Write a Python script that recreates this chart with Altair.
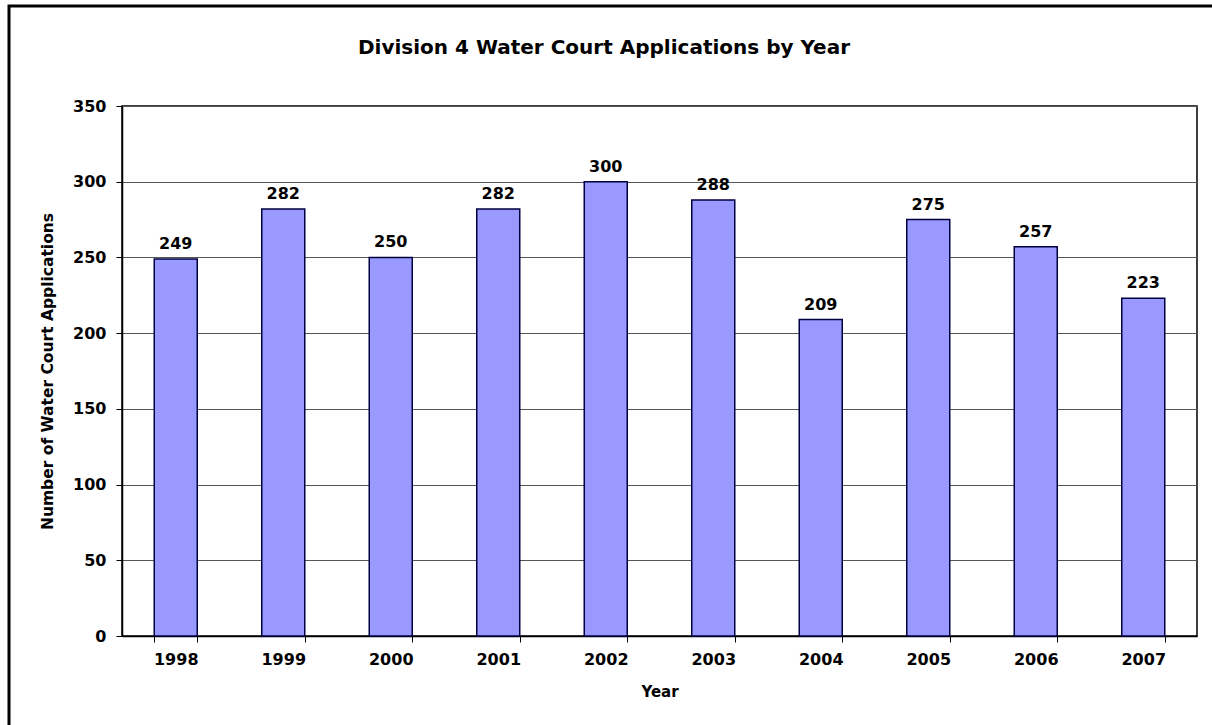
import altair as alt
import pandas as pd

# Division 4 water court applications, per year
years = ["1998", "1999", "2000", "2001", "2002", "2003", "2004", "2005", "2006", "2007"]
applications = [249, 282, 250, 282, 300, 288, 209, 275, 257, 223]
chart_title = "Division 4 Water Court Applications by Year"

df = pd.DataFrame({"Year": years, "Applications": applications})

FONT = "DejaVu Sans"

x_enc = alt.X(
    "Year:N",
    sort=years,
    scale=alt.Scale(paddingInner=0.6, paddingOuter=0.3),
    axis=alt.Axis(
        title="Year",
        labelAngle=0,
        labelFont=FONT,
        labelFontSize=16,
        labelFontWeight="bold",
        labelColor="black",
        labelPadding=9,
        titleFont=FONT,
        titleFontSize=15,
        titleFontWeight="bold",
        titleColor="black",
        titlePadding=17,
        domainColor="black",
        domainWidth=1.5,
        tickColor="black",
        tickSize=6,
        tickBand="extent",
        tickExtra=True,
        grid=False,
    ),
)

y_enc = alt.Y(
    "Applications:Q",
    scale=alt.Scale(domain=[0, 350]),
    axis=alt.Axis(
        title="Number of Water Court Applications",
        values=[0, 50, 100, 150, 200, 250, 300, 350],
        labelFont=FONT,
        labelFontSize=16,
        labelFontWeight="bold",
        labelColor="black",
        labelPadding=10,
        titleFont=FONT,
        titleFontSize=15.5,
        titleFontWeight="bold",
        titleColor="black",
        titlePadding=17,
        domainColor="black",
        domainWidth=1.5,
        tickColor="black",
        tickSize=6,
        grid=True,
        gridColor="#555555",
        gridWidth=1,
    ),
)

base = alt.Chart(df)

bars = base.mark_bar(
    color="#9999FF", stroke="#000040", strokeWidth=1.5
).encode(x=x_enc, y=y_enc)

labels = base.mark_text(
    baseline="bottom", dy=-7, font=FONT, fontSize=16, fontWeight="bold", color="black"
).encode(x=alt.X("Year:N", sort=years), y="Applications:Q", text="Applications:Q")

# chart heading, centred over the whole figure
heading = alt.Chart(pd.DataFrame({"t": [chart_title]})).mark_text(
    font=FONT, fontSize=20, fontWeight="bold", color="black",
    align="center", baseline="middle", clip=False,
).encode(text="t:N", x=alt.value(482), y=alt.value(-58))

# outer border around the whole figure
frame = alt.Chart(pd.DataFrame({"k": [0]})).mark_rect(
    fill=None, stroke="black", strokeWidth=3, clip=False
).encode(
    x=alt.value(-113), x2=alt.value(1200), y=alt.value(-100), y2=alt.value(700)
)

chart = (
    alt.layer(bars, labels, heading, frame)
    .properties(
        width=1075,
        height=530,
        autosize=alt.AutoSizeParams(type="none"),
        padding={"left": 122, "top": 106, "right": 15, "bottom": 89},
        background="white",
    )
    .configure_view(stroke="black", strokeWidth=1.5)
)

chart.save("out.html", embed_options={"renderer": "svg", "actions": False})
